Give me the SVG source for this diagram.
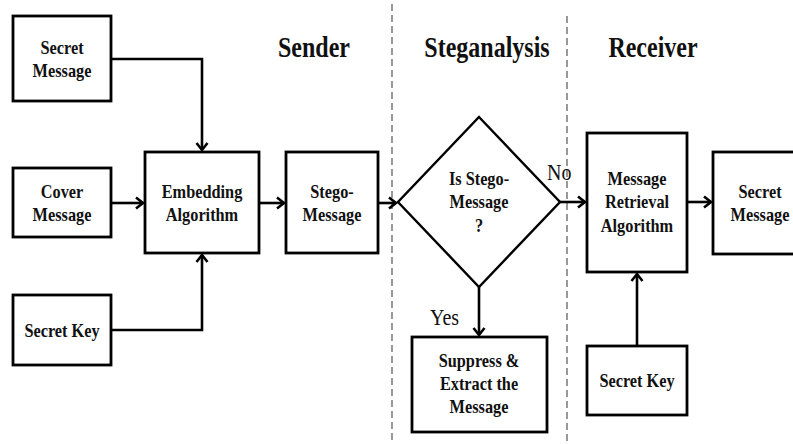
<svg xmlns="http://www.w3.org/2000/svg" width="793" height="444" viewBox="0 0 793 444">
<style>
.box{fill:#fff;stroke:#000;stroke-width:2.8}
.dia{fill:#fff;stroke:#000;stroke-width:2.4}
.t{font-family:"Liberation Serif","Times New Roman",serif;font-weight:bold;font-size:16.3px;text-anchor:middle;fill:#111}
.h{font-family:"Liberation Serif","Times New Roman",serif;font-weight:bold;font-size:24px;text-anchor:middle;fill:#111}
.l{font-family:"Liberation Serif","Times New Roman",serif;font-size:20px;fill:#111}
.c{fill:none;stroke:#000;stroke-width:2.6}
.d{fill:none;stroke:#555;stroke-width:1.2;stroke-dasharray:7,4}
</style>
<defs>
<marker id="a" markerUnits="userSpaceOnUse" markerWidth="14" markerHeight="14" refX="11" refY="7" orient="auto">
<path d="M4,1.5 L11,7 L4,12.5" fill="none" stroke="#000" stroke-width="2.6"/>
</marker>
</defs>
<rect width="793" height="444" fill="#fff"/>
<g id="dividers">
<line class="d" x1="392" y1="4" x2="392" y2="444"/>
<line class="d" x1="567" y1="16" x2="567" y2="444"/>
</g>
<g id="titles">
<text class="h" transform="translate(314,57) scale(1,1.2)">Sender</text>
<text class="h" transform="translate(487,57) scale(1,1.2)">Steganalysis</text>
<text class="h" transform="translate(653,57) scale(1,1.2)">Receiver</text>
</g>
<g id="connectors">
<path class="c" d="M111,59 H202 V150" marker-end="url(#a)"/>
<path class="c" d="M111,203 H143" marker-end="url(#a)"/>
<path class="c" d="M111,330 H202 V255" marker-end="url(#a)"/>
<path class="c" d="M259,203 H284" marker-end="url(#a)"/>
<path class="c" d="M378,203 H396" marker-end="url(#a)"/>
<path class="c" d="M560,202 H585" marker-end="url(#a)"/>
<path class="c" d="M687,202 H711" marker-end="url(#a)"/>
<path class="c" d="M479,287 V335" marker-end="url(#a)"/>
<path class="c" d="M637,346 V274" marker-end="url(#a)"/>
<text class="l" transform="translate(547,180) scale(1,1.15)">No</text>
<text class="l" transform="translate(430,325) scale(1,1.15)">Yes</text>
</g>
<g id="secret-message">
<rect class="box" x="13" y="16" width="98" height="85"/>
<text class="t" transform="translate(62,54) scale(1,1.13)">Secret</text>
<text class="t" transform="translate(62,77) scale(1,1.13)">Message</text>
</g>
<g id="cover-message">
<rect class="box" x="13" y="168" width="98" height="69"/>
<text class="t" transform="translate(62,198) scale(1,1.13)">Cover</text>
<text class="t" transform="translate(62,221) scale(1,1.13)">Message</text>
</g>
<g id="secret-key">
<rect class="box" x="13" y="295" width="98" height="70"/>
<text class="t" transform="translate(62,337) scale(1,1.13)">Secret Key</text>
</g>
<g id="embedding">
<rect class="box" x="145" y="152" width="114" height="101"/>
<text class="t" transform="translate(202,198) scale(1,1.13)">Embedding</text>
<text class="t" transform="translate(202,221) scale(1,1.13)">Algorithm</text>
</g>
<g id="stego-message">
<rect class="box" x="286" y="152" width="92" height="101"/>
<text class="t" transform="translate(332,198) scale(1,1.13)">Stego-</text>
<text class="t" transform="translate(332,221) scale(1,1.13)">Message</text>
</g>
<g id="decision">
<polygon class="dia" points="479,117 560,202 479,287 398,202"/>
<text class="t" transform="translate(479,185) scale(1,1.13)">Is Stego-</text>
<text class="t" transform="translate(479,208) scale(1,1.13)">Message</text>
<text class="t" transform="translate(479,232) scale(1,1.13)">?</text>
</g>
<g id="suppress">
<rect class="box" x="412" y="337" width="135" height="95"/>
<text class="t" transform="translate(479,367) scale(1,1.13)">Suppress &amp;</text>
<text class="t" transform="translate(479,390) scale(1,1.13)">Extract the</text>
<text class="t" transform="translate(479,413) scale(1,1.13)">Message</text>
</g>
<g id="retrieval">
<rect class="box" x="587" y="133" width="100" height="139"/>
<text class="t" transform="translate(637,185) scale(1,1.13)">Message</text>
<text class="t" transform="translate(637,208) scale(1,1.13)">Retrieval</text>
<text class="t" transform="translate(637,232) scale(1,1.13)">Algorithm</text>
</g>
<g id="secret-key-r">
<rect class="box" x="587" y="346" width="100" height="69"/>
<text class="t" transform="translate(637,387) scale(1,1.13)">Secret Key</text>
</g>
<g id="secret-message-r">
<rect class="box" x="713" y="152" width="94" height="102"/>
<text class="t" transform="translate(760,198) scale(1,1.13)">Secret</text>
<text class="t" transform="translate(760,221) scale(1,1.13)">Message</text>
</g>
</svg>
